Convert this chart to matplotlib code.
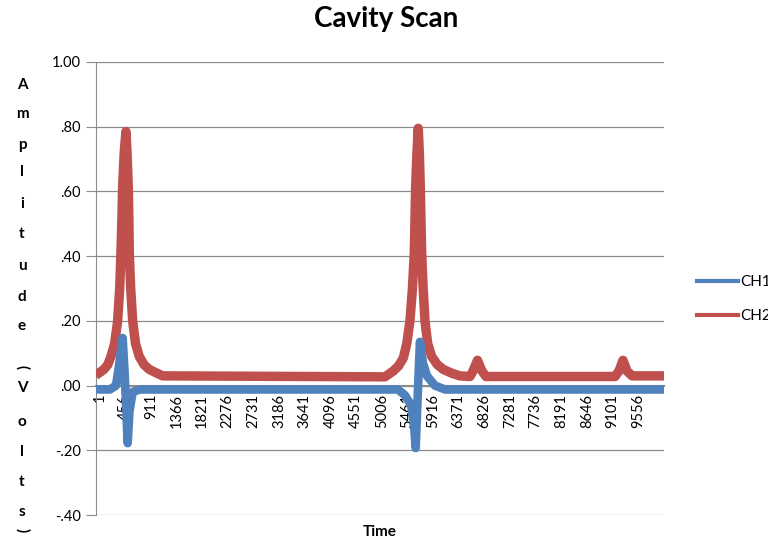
import matplotlib
matplotlib.use('Agg')
import matplotlib.pyplot as plt

plt.rcParams['font.family'] = ['Lato', 'DejaVu Sans']

# sample number / amplitude (V) for the two channels
ch1_idx = [1, 187, 294, 347, 412, 444, 471, 501, 533, 590, 719,
           5294, 5418, 5525, 5578, 5607, 5639, 5683, 5736, 5807, 5949, 6127,
           10000]
ch1_val = [-0.012, -0.012, 0.0, 0.06, 0.147, 0.05, -0.05, -0.178, -0.08, -0.02, -0.012,
           -0.012, -0.03, -0.06, -0.12, -0.193, -0.05, 0.135, 0.07, 0.03, 0.0, -0.012,
           -0.012]

ch2_idx = [1, 81, 150, 205, 270, 324, 360, 382, 400, 412, 440, 471, 490, 512, 522, 530,
           555, 590, 640, 707, 790, 884, 1000, 1122,
           5063, 5210, 5300, 5388, 5450, 5506, 5550, 5583, 5596, 5607, 5630, 5653, 5672,
           5689, 5700, 5714, 5740, 5772, 5820, 5891, 5990, 6097, 6250, 6393,
           6570, 6623, 6703, 6783, 6854,
           9141, 9212, 9283, 9354, 9443, 10000]
ch2_val = [0.040, 0.050, 0.065, 0.09, 0.13, 0.20, 0.30, 0.41, 0.52, 0.615, 0.72, 0.785,
           0.72, 0.615, 0.52, 0.41, 0.30, 0.20, 0.13, 0.09, 0.065, 0.05, 0.04, 0.030,
           0.027, 0.045, 0.06, 0.085, 0.13, 0.20, 0.30, 0.41, 0.52, 0.615, 0.72, 0.795,
           0.72, 0.615, 0.52, 0.41, 0.30, 0.20, 0.13, 0.09, 0.065, 0.05, 0.038, 0.03,
           0.028, 0.045, 0.078, 0.045, 0.028,
           0.028, 0.045, 0.078, 0.045, 0.030, 0.030]

tick_pos = list(range(1, 10000, 455))
tick_labels = [str(t) for t in tick_pos]
y_ticks = [-0.4, -0.2, 0.0, 0.2, 0.4, 0.6, 0.8, 1.0]
y_labels = ['-.40', '-.20', '.00', '.20', '.40', '.60', '.80', '1.00']

blue = '#4F81BD'
red = '#C0504D'
grey = '#8C8C8C'

fig = plt.figure(figsize=(7.68, 5.48), dpi=100)
ax = fig.add_axes([0.125, 0.0602, 0.7396, 0.8267])

ax.plot(ch1_idx, ch1_val, color=blue, lw=6.2, label='CH1', zorder=4)
ax.plot(ch2_idx, ch2_val, color=red, lw=6.8, label='CH2', zorder=3)

# category axis sits on y = 0 (set before the tick labels, it resets ticks)
for s in ['top', 'right']:
    ax.spines[s].set_visible(False)
ax.spines['bottom'].set_position(('data', 0))
ax.spines['left'].set_color(grey)
ax.spines['bottom'].set_color(grey)
ax.spines['bottom'].set_linewidth(1.5)
ax.spines['bottom'].set_zorder(2)

ax.set_xlim(-60, 10010)
ax.set_ylim(-0.4, 1.0)
ax.set_yticks(y_ticks)
ax.set_yticklabels(y_labels, fontsize=10.5)
ax.set_xticks(tick_pos)
ax.set_xticklabels(tick_labels, fontsize=10.5)
ax.tick_params(axis='x', length=0, pad=6, labelrotation=90)
ax.tick_params(axis='y', length=7, color=grey, pad=4)

ax.grid(axis='y', color=grey, lw=0.9)
ax.set_axisbelow(True)

fig.text(0.503, 0.965, 'Cavity Scan', ha='center', va='center',
         fontsize=20, fontweight='bold')
fig.text(0.495, 0.029, 'Time', ha='center', va='center',
         fontsize=11, fontweight='bold')

# stacked y-axis title
letters = ['A', 'm', 'p', 'l', 'i', 't', 'u', 'd', 'e', '(', 'V', 'o', 'l', 't', 's', ')']
ys = [85, 114, 145, 172, 204, 234, 266, 297, 326, 367, 388, 422, 452, 482, 512, 530]
for ch, yy in zip(letters, ys):
    rot = -90 if ch in '()' else 0
    fig.text(22 / 768, 1 - yy / 548, ch, ha='center', va='center',
             fontsize=11, fontweight='bold', rotation=rot)

leg = ax.legend(loc='upper left', bbox_to_anchor=(697 / 768, 1 - 275 / 548),
                bbox_transform=fig.transFigure, frameon=False, fontsize=11,
                handlelength=2.7, handletextpad=0.15, labelspacing=1.3,
                borderpad=0, borderaxespad=0)
for h in leg.get_lines():
    h.set_linewidth(3)

fig.savefig('out.png', dpi=100)
